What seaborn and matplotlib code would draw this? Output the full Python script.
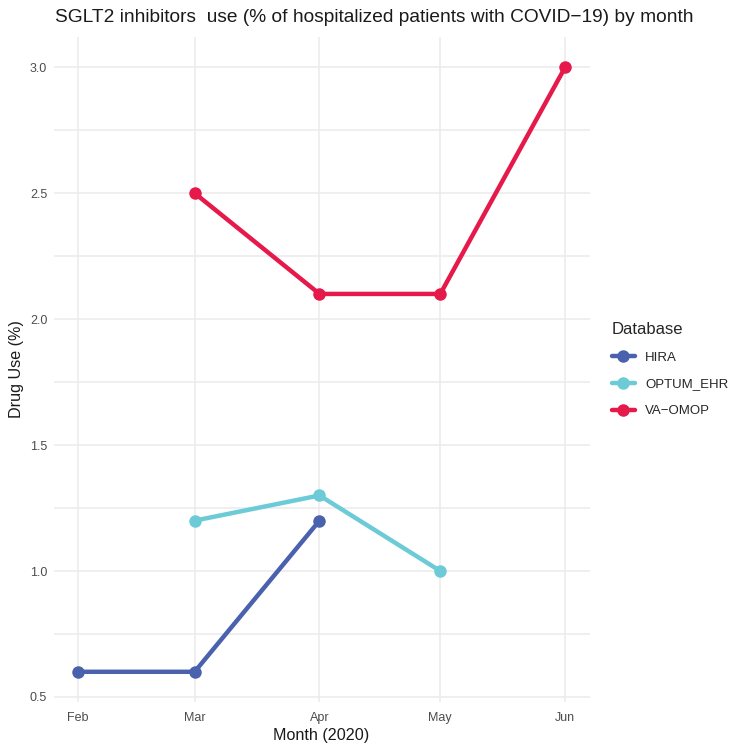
import matplotlib
matplotlib.use('Agg')
import matplotlib.pyplot as plt
import matplotlib.dates as mdates
from matplotlib.ticker import MultipleLocator
import seaborn as sns
import pandas as pd

# data
hira_months = ["2020-02-01", "2020-03-01", "2020-04-01"]
hira_use = [0.6, 0.6, 1.2]
optum_months = ["2020-03-01", "2020-04-01", "2020-05-01"]
optum_use = [1.2, 1.3, 1.0]
va_months = ["2020-03-01", "2020-04-01", "2020-05-01", "2020-06-01"]
va_use = [2.5, 2.1, 2.1, 3.0]

databases = ["HIRA", "OPTUM_EHR", "VA-OMOP"]
colors = ["#4a62ae", "#6ccbd7", "#e5194a"]

rows = []
for db, months, vals in zip(databases, [hira_months, optum_months, va_months], [hira_use, optum_use, va_use]):
    for m, v in zip(months, vals):
        rows.append({"month": pd.Timestamp(m), "use": v, "Database": db})
df = pd.DataFrame(rows)

sns.set_style("white")
plt.rcParams['font.family'] = ['Liberation Sans', 'DejaVu Sans']

fig = plt.figure(figsize=(7.36, 7.44), dpi=100)
ax = fig.add_axes([53.5 / 736, 42 / 744, 536 / 736, 665 / 744])

palette = dict(zip(databases, colors))
sns.lineplot(data=df, x="month", y="use", hue="Database", palette=palette,
             hue_order=databases, linewidth=3.2, marker="o", markersize=9,
             markeredgewidth=0, ax=ax)

# ggplot-like scales
x0, x1 = mdates.date2num(pd.Timestamp("2020-02-01")), mdates.date2num(pd.Timestamp("2020-06-01"))
pad = (x1 - x0) * 0.05
ax.set_xlim(x0 - pad, x1 + pad)
ax.set_ylim(0.48, 3.12)
ax.xaxis.set_major_locator(mdates.MonthLocator())
ax.xaxis.set_major_formatter(mdates.DateFormatter("%b"))
ax.yaxis.set_major_locator(MultipleLocator(0.5))
ax.yaxis.set_minor_locator(MultipleLocator(0.25))
ax.yaxis.set_major_formatter(plt.FuncFormatter(lambda v, p: f"{v:.1f}"))

ax.grid(True, which="major", color="#ebebeb", linewidth=1.1)
ax.grid(True, which="minor", axis="y", color="#ebebeb", linewidth=1.1)
ax.set_axisbelow(True)
for s in ax.spines.values():
    s.set_visible(False)
ax.tick_params(axis="both", which="both", length=0, labelsize=9, colors="#4d4d4d")
ax.tick_params(axis="x", pad=7.5)
ax.tick_params(axis="y", pad=4.5)

ax.set_xlabel("Month (2020)", fontsize=11.6, color="#1a1a1a", labelpad=2.5)
ax.set_ylabel("Drug Use (%)", fontsize=11.6, color="#1a1a1a", labelpad=4)
fig.text(55 / 736, 1 - 18 / 744, "SGLT2 inhibitors  use (% of hospitalized patients with COVID\u221219) by month",
         fontsize=13.8, color="#1a1a1a", va="center", ha="left")

handles, labels = ax.get_legend_handles_labels()
labels = [l.replace("-", "\u2212") for l in labels]
leg = ax.legend(handles, labels, title="Database", loc="center left",
                bbox_to_anchor=(1.02, 0.5), frameon=False, fontsize=9.5,
                title_fontsize=12, handlelength=1.7, labelspacing=1.1,
                alignment="left")

fig.savefig("out.png", dpi=100)
